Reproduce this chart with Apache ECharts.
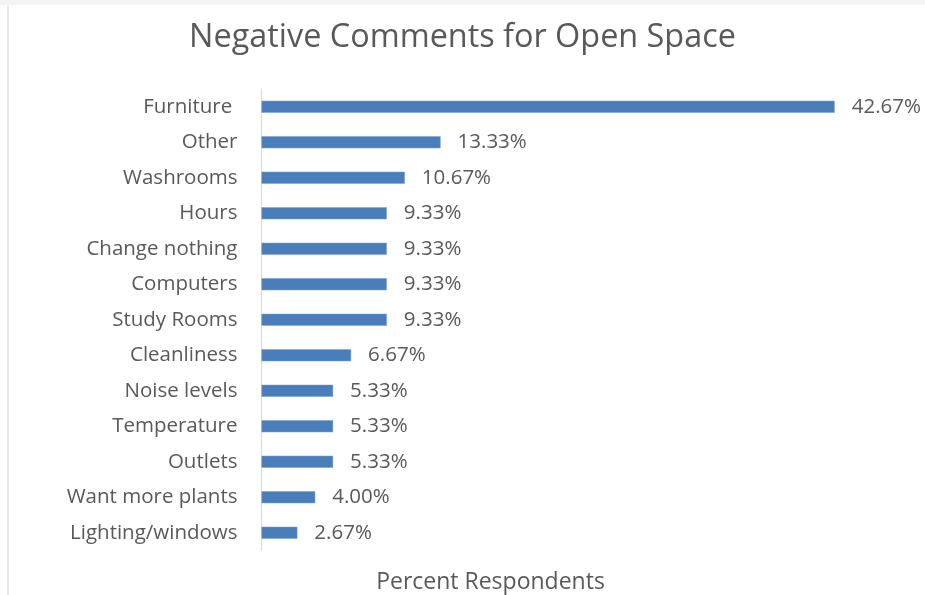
<!DOCTYPE html>
<html>
<head>
<meta charset="utf-8">
<script src="https://cdn.jsdelivr.net/npm/echarts@6/dist/echarts.min.js"></script>
<style>
  html, body { margin: 0; padding: 0; background: #ffffff; }
  #chart { position: absolute; left: 0; top: 0; width: 925px; height: 595px; }
</style>
</head>
<body>
<div id="chart"></div>
<script>
// Categories listed bottom-to-top (ECharts category axis draws the first item at the bottom)
const categories = [
  'Lighting/windows', 'Want more plants', 'Outlets', 'Temperature', 'Noise levels',
  'Cleanliness', 'Study Rooms', 'Computers', 'Change nothing', 'Hours',
  'Washrooms', 'Other', 'Furniture '
];
const percentValues = [2.67, 4.00, 5.33, 5.33, 5.33, 6.67, 9.33, 9.33, 9.33, 9.33, 10.67, 13.33, 42.67];
const chartTitle = 'Negative Comments for Open Space';
const axisTitle = 'Percent Respondents';

const FONT = 'Open Sans';
const TEXT = '#595959';

const chart = echarts.init(document.getElementById('chart'), null, { renderer: 'canvas' });
chart.setOption({
  animation: false,
  backgroundColor: '#ffffff',
  title: {
    text: chartTitle,
    left: 'center',
    top: 17,
    textStyle: { fontFamily: FONT, fontSize: 32.4, fontWeight: 'normal', color: TEXT }
  },
  grid: { left: 261.5, right: 59, top: 89, bottom: 44.5, containLabel: false },
  xAxis: {
    type: 'value',
    min: 0,
    max: 45,
    axisLine: { show: false },
    axisTick: { show: false },
    axisLabel: { show: false },
    splitLine: { show: false }
  },
  yAxis: {
    type: 'category',
    data: categories,
    axisLine: { show: true, lineStyle: { color: '#d9d9d9', width: 1 } },
    axisTick: { show: false },
    axisLabel: { margin: 24, fontFamily: FONT, fontSize: 20.5, color: TEXT }
  },
  series: [{
    type: 'bar',
    data: percentValues,
    barWidth: 12,
    itemStyle: { color: '#4a7ebb', borderColor: '#79a0d0', borderWidth: 0.5 },
    label: {
      show: true,
      position: 'right',
      distance: 17,
      fontFamily: FONT,
      fontSize: 20.5,
      color: TEXT,
      formatter: p => p.value.toFixed(2) + '%'
    }
  }],
  graphic: [
    { type: 'rect', shape: { x: 0, y: 0, width: 925, height: 5 }, style: { fill: '#f4f4f4' }, silent: true },
    { type: 'rect', shape: { x: 7, y: 5, width: 2, height: 590 }, style: { fill: '#e8e8e8' }, silent: true },
    {
      type: 'text',
      x: 490.5,
      y: 582,
      style: { text: axisTitle, fontFamily: FONT, fontSize: 23, fill: TEXT, align: 'center', verticalAlign: 'middle' }
    }
  ]
});
</script>
</body>
</html>
